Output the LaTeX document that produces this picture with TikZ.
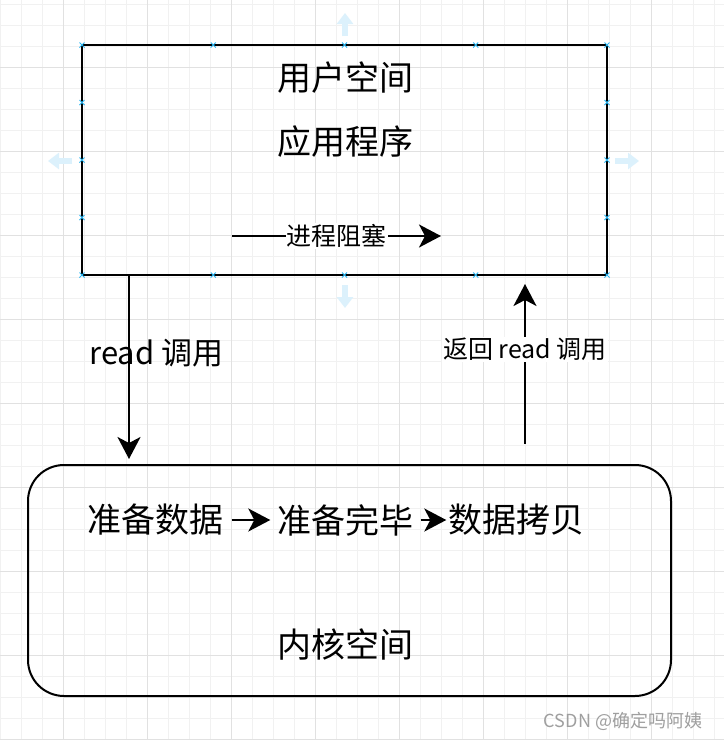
\documentclass[tikz,border=0pt]{standalone}
\usepackage{fontspec}
\setmainfont{Noto Sans CJK SC}
\usepackage{tikz}
\usetikzlibrary{arrows.meta}
\usetikzlibrary{positioning}
\definecolor{minorgrid}{HTML}{F1F1F1}
\definecolor{majorgrid}{HTML}{E1E1E1}
\definecolor{handleblue}{HTML}{29B6F2}
\definecolor{hintblue}{HTML}{DCF1FC}

\begin{document}
\begin{tikzpicture}[x=1pt, y=-1pt,
		flow/.style={line width=2pt, -{Stealth[length=22pt, width=23pt, inset=6pt]}},
		bigtext/.style={font=\fontsize{34}{40}\selectfont, inner sep=0pt},
		midtext/.style={font=\fontsize{31}{36}\selectfont, inner sep=0pt},
		smalltext/.style={font=\fontsize{25}{30}\selectfont, inner sep=1pt, fill=white},
		hint/.style={line width=6pt, hintblue, -{Triangle[length=11pt, width=16pt]}}]
			\useasboundingbox (0,0) rectangle (724,740);
			\fill[white] (0,0) rectangle (724,740);
			% grid
			\foreach \x in {0,21,...,724} \draw[minorgrid] (\x,0) -- (\x,740);
			\foreach \y in {4,25,...,740} \draw[minorgrid] (0,\y) -- (724,\y);
			\foreach \x in {63,147,...,724} \draw[majorgrid] (\x,0) -- (\x,740);
			\foreach \y in {67,151,...,740} \draw[majorgrid] (0,\y) -- (724,\y);
			% user space
			\node[draw, line width=2pt, minimum width=525pt, minimum height=230pt] (user) at (344.5,160) {};
			\node[bigtext] (usertitle) at (345,78) {用户空间};
			\node[bigtext] (app) at (345,142) {应用程序};
			\coordinate (blockL) at (232,236);
			\coordinate (blockR) at (441,236);
			\draw[flow] (blockL) -- node[smalltext] (block) {进程阻塞} (blockR);
			% kernel space
			\node[draw, line width=2pt, rounded corners=36pt, minimum width=643pt, minimum height=231pt] (kernel) at (349.5,580.5) {};
			\node[bigtext] (prep) at (155.5,520) {准备数据};
			\node[bigtext] (ready) at (345.5,520) {准备完毕};
			\node[bigtext] (copy) at (516.5,520) {数据拷贝};
			\node[bigtext] (kerneltitle) at (345,645) {内核空间};
			\draw[flow, shorten <=8pt, shorten >=7pt] (prep) -- (ready);
			\draw[flow, shorten <=7pt, shorten >=2pt] (ready) -- (copy);
			% read call and return
			\coordinate (readx) at (129,0);
			\coordinate (retx) at (525,0);
			\draw[flow, shorten >=5pt] (user.south -| readx) -- (kernel.north -| readx);
			\node[midtext] (readcall) at (156.5,353) {read 调用};
			\draw[flow] ([yshift=20pt]kernel.north -| retx) -- node[smalltext, pos=0.59] (retcall) {返回 read 调用} ([yshift=-8pt]user.south -| retx);
			% selection handles
			\foreach \x in {82,213.25,344.5,475.75,607}
				\foreach \y in {45,275}
					\draw[handleblue, line width=1pt] (\x-2.5,\y-2.5) -- (\x+2.5,\y+2.5) (\x-2.5,\y+2.5) -- (\x+2.5,\y-2.5);
			\foreach \x in {82,607}
				\foreach \y in {102.5,160,217.5}
					\draw[handleblue, line width=1pt] (\x-2.5,\y-2.5) -- (\x+2.5,\y+2.5) (\x-2.5,\y+2.5) -- (\x+2.5,\y-2.5);
			\draw[hint] (345,36) -- (345,13);
			\draw[hint] (345,285) -- (345,308);
			\draw[hint] (72,161) -- (48,161);
			\draw[hint] (615,161) -- (639,161);
			% watermark
			\node[font=\fontsize{18}{20}\selectfont, text=gray!75] (mark) at (623,721) {CSDN @确定吗阿姨};
		\end{tikzpicture}
\end{document}
